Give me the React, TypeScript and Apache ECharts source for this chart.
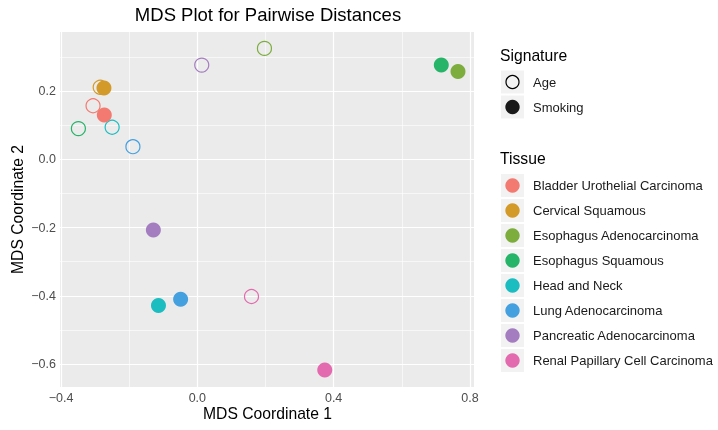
import React, { useEffect, useRef } from "react";
import * as echarts from "echarts";

const tissues = [
  "Bladder Urothelial Carcinoma",
  "Cervical Squamous",
  "Esophagus Adenocarcinoma",
  "Esophagus Squamous",
  "Head and Neck",
  "Lung Adenocarcinoma",
  "Pancreatic Adenocarcinoma",
  "Renal Papillary Cell Carcinoma",
];
const tissueColors = ["#F37A70", "#D39A2A", "#7CAD3D", "#26B469", "#1BBDC1", "#45A0E0", "#A47DC0", "#E36AAE"];
const ageX = [-0.306, -0.285, 0.197, -0.349, -0.250, -0.189, 0.013, 0.159];
const ageY = [0.157, 0.211, 0.325, 0.090, 0.094, 0.037, 0.276, -0.402];
const smokingX = [-0.273, -0.274, 0.765, 0.716, -0.114, -0.049, -0.129, 0.374];
const smokingY = [0.130, 0.209, 0.257, 0.276, -0.428, -0.410, -0.207, -0.617];
const signatures = ["Age", "Smoking"];
const xMajor = [-0.4, 0, 0.4, 0.8];
const xMinor = [-0.2, 0.2, 0.6];
const yMajor = [-0.6, -0.4, -0.2, 0, 0.2];
const yMinor = [-0.5, -0.3, -0.1, 0.1, 0.3];

const FONT = "Liberation Sans, Arial, Helvetica, sans-serif";
const fmt = (v: number) => (v < -1e-9 ? "\u2212" + Math.abs(v).toFixed(1) : Math.abs(v).toFixed(1));

export default function App() {
  const ref = useRef<HTMLDivElement>(null);
  useEffect(() => {
    if (!ref.current) return;
    const chart = echarts.init(ref.current, undefined, { renderer: "svg" });
    const gridLeft = 60, gridTop = 32, gridW = 414, gridH = 355;

    const lineData: any[] = [];
    xMajor.forEach((v) => lineData.push({ xAxis: v, lineStyle: { width: 1.2 } }));
    xMinor.forEach((v) => lineData.push({ xAxis: v, lineStyle: { width: 0.6 } }));
    yMajor.forEach((v) => lineData.push({ yAxis: v, lineStyle: { width: 1.2 } }));
    yMinor.forEach((v) => lineData.push({ yAxis: v, lineStyle: { width: 0.6 } }));

    const ageData = tissues.map((t, i) => ({
      name: t,
      value: [ageX[i], ageY[i]],
      itemStyle: { color: "rgba(0,0,0,0)", borderColor: tissueColors[i], borderWidth: 1.2, opacity: 1 },
    }));
    const smokeData = tissues.map((t, i) => ({
      name: t,
      value: [smokingX[i], smokingY[i]],
      itemStyle: { color: tissueColors[i], opacity: 1 },
    }));

    const legendX = 501;
    const graphics: any[] = [];
    graphics.push({
      type: "text", x: 500, y: 55,
      style: { text: "Signature", font: `15.7px ${FONT}`, fill: "#000", verticalAlign: "middle" },
    });
    const sigY = [82, 107];
    signatures.forEach((s, i) => {
      graphics.push({ type: "rect", shape: { x: legendX, y: sigY[i] - 11.5, width: 23, height: 23 }, style: { fill: "#F2F2F2" } });
      graphics.push({
        type: "circle",
        shape: { cx: legendX + 11.5, cy: sigY[i], r: i === 0 ? 6.5 : 7.2 },
        style: i === 0 ? { fill: "none", stroke: "#000", lineWidth: 1.2 } : { fill: "#1a1a1a" },
      });
      graphics.push({
        type: "text", x: 533, y: sigY[i],
        style: { text: s, font: `13px ${FONT}`, fill: "#1a1a1a", verticalAlign: "middle" },
      });
    });
    graphics.push({
      type: "text", x: 500, y: 158,
      style: { text: "Tissue", font: `15.7px ${FONT}`, fill: "#000", verticalAlign: "middle" },
    });
    tissues.forEach((t, i) => {
      const cy = 185.5 + i * 25;
      graphics.push({ type: "rect", shape: { x: legendX, y: cy - 11.5, width: 23, height: 23 }, style: { fill: "#F2F2F2" } });
      graphics.push({ type: "circle", shape: { cx: legendX + 11.5, cy, r: 7.2 }, style: { fill: tissueColors[i] } });
      graphics.push({
        type: "text", x: 533, y: cy,
        style: { text: t, font: `13px ${FONT}`, fill: "#1a1a1a", verticalAlign: "middle" },
      });
    });
    graphics.push({
      type: "text", x: 268, y: 14,
      style: { text: "MDS Plot for Pairwise Distances", font: `18.5px ${FONT}`, fill: "#000", align: "center", verticalAlign: "middle" },
    });
    graphics.push({
      type: "text", x: 267.5, y: 413,
      style: { text: "MDS Coordinate 1", font: `15.7px ${FONT}`, fill: "#000", align: "center", verticalAlign: "middle" },
    });
    graphics.push({
      type: "text", x: 17, y: gridTop + gridH / 2, rotation: Math.PI / 2,
      style: { text: "MDS Coordinate 2", font: `15.7px ${FONT}`, fill: "#000", align: "center", verticalAlign: "middle" },
    });

    chart.setOption({
      animation: false,
      grid: {
        left: gridLeft, top: gridTop, width: gridW, height: gridH,
        show: true, backgroundColor: "#EBEBEB", borderWidth: 0,
      },
      xAxis: {
        type: "value", min: -0.403, max: 0.812,
        axisLine: { show: false },
        splitLine: { show: false },
        axisTick: { show: true, customValues: xMajor, length: 3, lineStyle: { color: "#333", width: 1 } },
        axisLabel: {
          customValues: xMajor, color: "#4D4D4D", fontSize: 12.5, fontFamily: FONT, margin: 4,
          formatter: fmt,
        },
      },
      yAxis: {
        type: "value", min: -0.667, max: 0.373,
        axisLine: { show: false },
        splitLine: { show: false },
        axisTick: { show: true, customValues: yMajor, length: 3, lineStyle: { color: "#333", width: 1 } },
        axisLabel: {
          customValues: yMajor, color: "#4D4D4D", fontSize: 12.5, fontFamily: FONT, margin: 4,
          formatter: fmt,
        },
      },
      series: [
        {
          type: "scatter", name: "grid", data: [], silent: true, z: 1,
          markLine: {
            silent: true, symbol: ["none", "none"], label: { show: false }, z: 1,
            lineStyle: { color: "#FFFFFF", type: "solid" },
            emphasis: { disabled: true },
            data: lineData,
          },
        },
        { type: "scatter", name: "Age", symbol: "circle", symbolSize: 14, data: ageData, z: 3 },
        { type: "scatter", name: "Smoking", symbol: "circle", symbolSize: 15, data: smokeData, z: 4 },
      ],
      graphic: graphics,
    });
    return () => chart.dispose();
  }, []);
  return <div ref={ref} style={{ position: "fixed", left: 0, top: 0, width: 718, height: 430 }} />;
}
